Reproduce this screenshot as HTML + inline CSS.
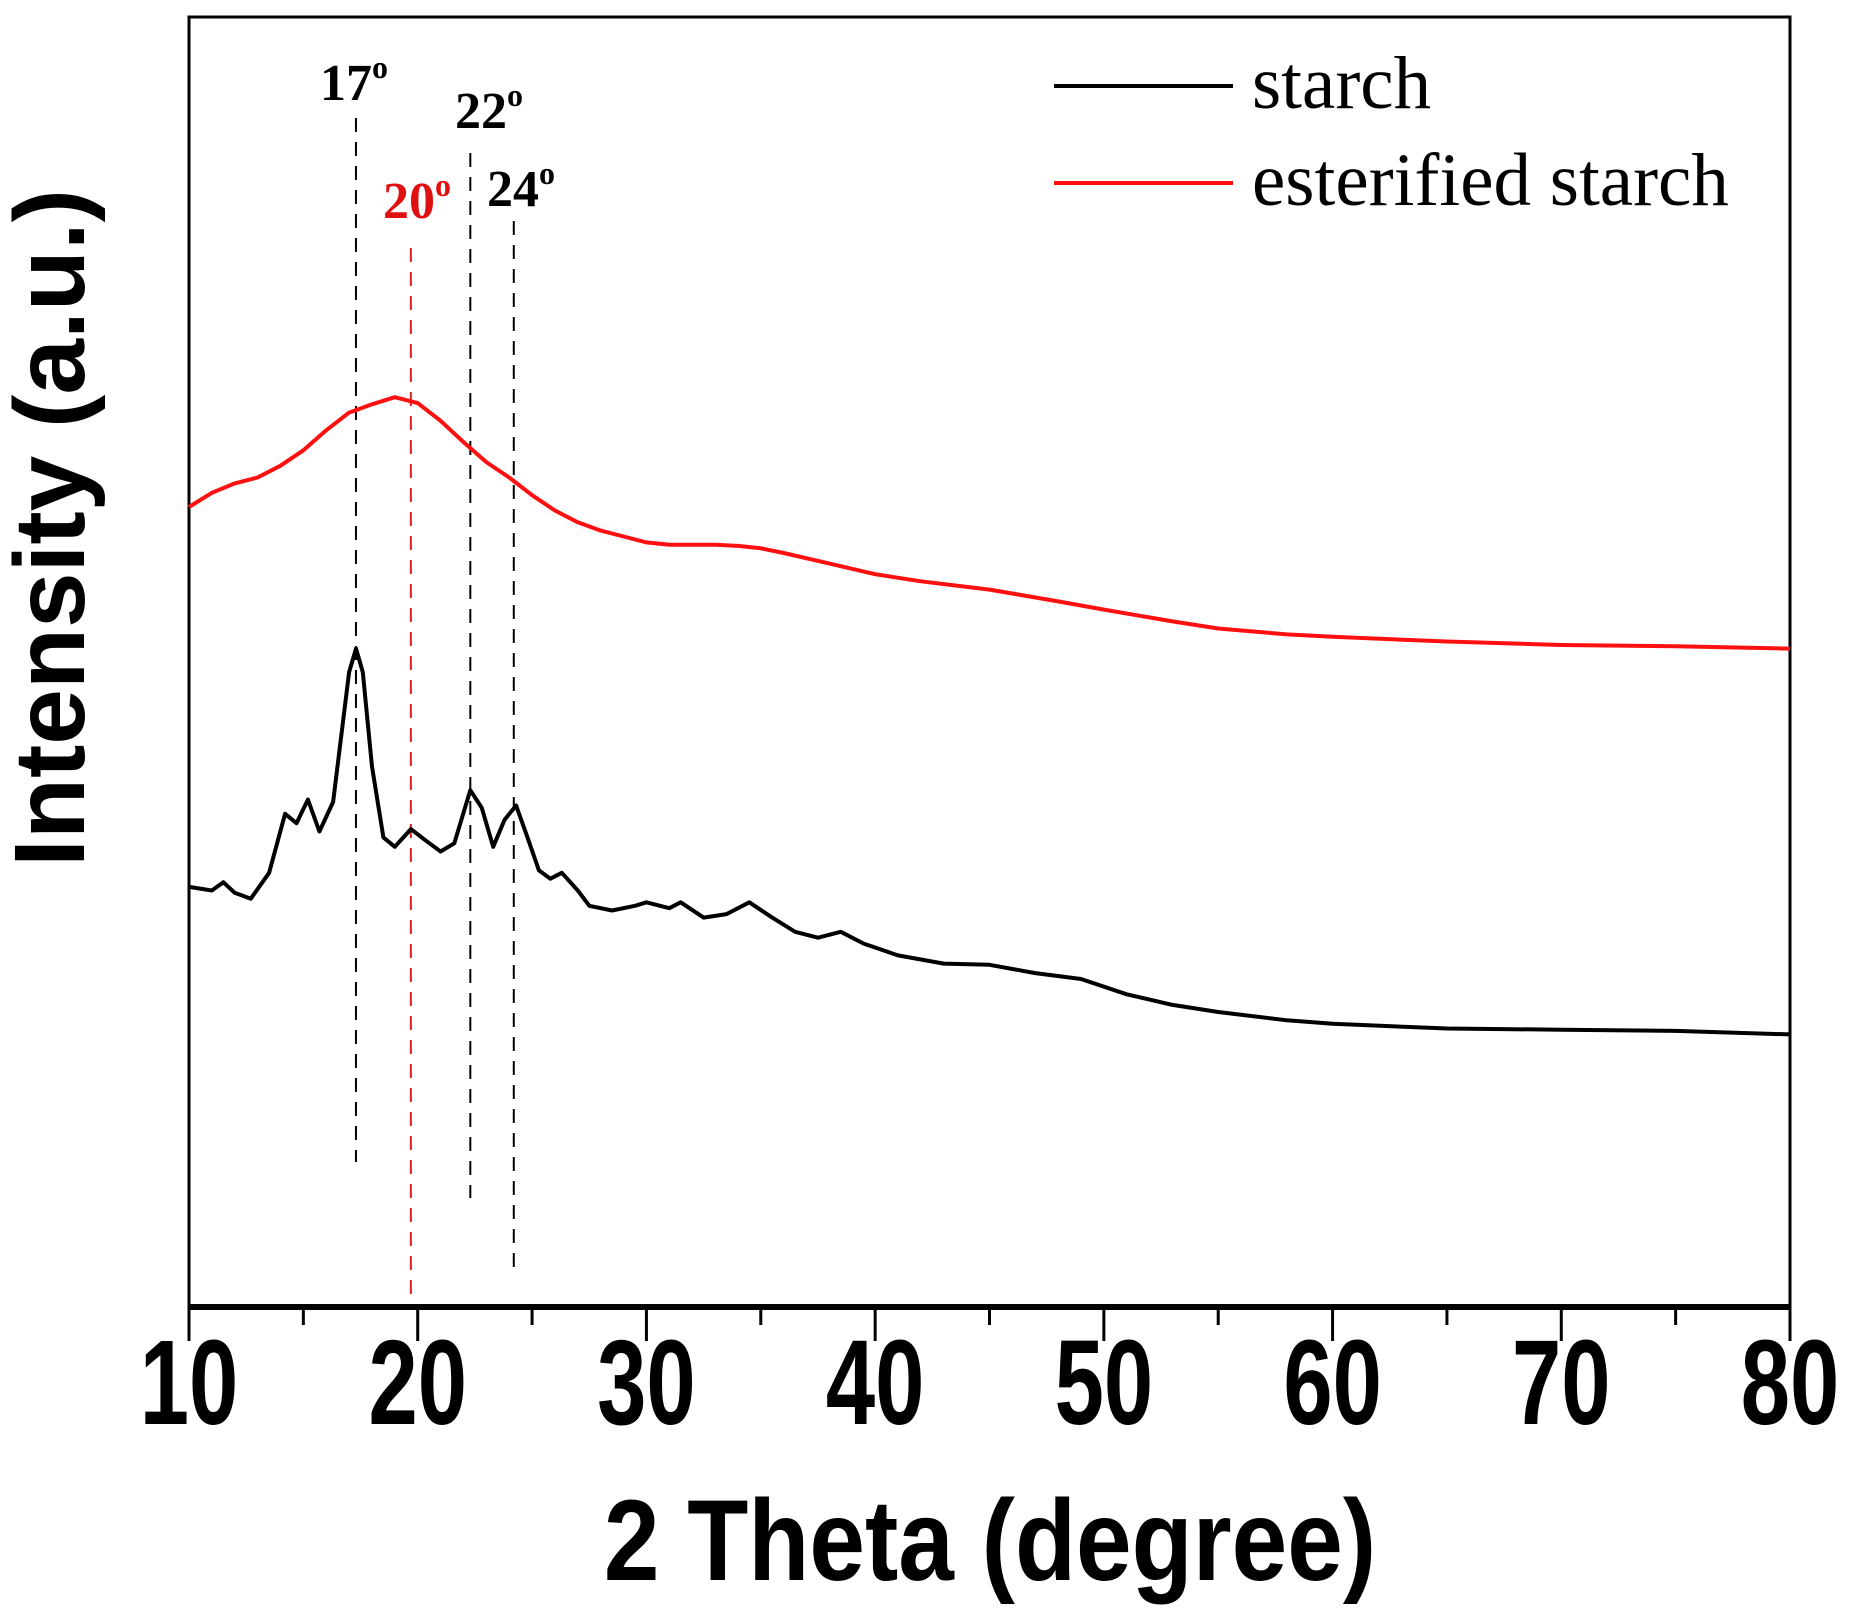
<!DOCTYPE html>
<html><head><meta charset="utf-8"><style>
html,body{margin:0;padding:0;background:#fff;}
svg{display:block;}
</style></head><body>
<svg id="chart" width="1850" height="1615" viewBox="0 0 1850 1615" xmlns="http://www.w3.org/2000/svg">
<g id="plot"></g>
</svg>
<script>
const starchX=[10,11,11.5,12,12.7,13.5,14.2,14.7,15.2,15.7,16.3,17,17.3,17.6,18,18.5,19,19.7,20.3,21,21.6,22.3,22.8,23.3,23.8,24.3,24.8,25.3,25.8,26.3,27,27.5,28.5,29.5,30,31,31.5,32.5,33.5,34.5,35.5,36.5,37.5,38.5,39.5,41,43,45,47,49,51,53,55,58,60,65,70,75,80];
const starchY=[356,353,360,351,346,368,418,410,430,403,428,538,558,538,458,398,390,405,396,386,393,438,423,390,413,425,398,370,363,368,353,340,336,340,343,338,343,330,333,343,330,318,313,318,308,298,291,290,283,278,265,256,250,243,240,236,235,234,231];
const esterX=[10,11,12,13,14,15,16,17,18,19,20,21,22,23,24,25,26,27,28,29,30,31,32,33,34,35,36,38,40,42,45,48,50,53,55,58,60,65,70,75,80];
const esterY=[678,690,698,703,713,726,743,758,765,771,766,751,733,716,703,688,675,665,658,653,648,646,646,646,645,643,639,630,621,615,608,598,591,581,575,570,568,564,561,560,558];
const xTicks=[10,20,30,40,50,60,70,80];
const peakPos=[17.3,22.3,24.2];
const peakLabels=["17","22","24"];
const redPeak=[19.7];
const redLabel=["20"];

const L=189,R=1790,T=17,B=1307;
const X=v=>L+(v-10)/70*(R-L);
const Y=v=>B-v*1.18;
const ns="http://www.w3.org/2000/svg";
const g=document.getElementById('plot');
function mk(tag,attrs){const e=document.createElementNS(ns,tag);for(const k in attrs)e.setAttribute(k,attrs[k]);g.appendChild(e);return e;}

let fr=mk('rect',{x:L,y:T,width:R-L,height:B-T,fill:'none',stroke:'#000','stroke-width':3});


let xa=mk('line',{x1:L,x2:R,y1:B,y2:B,stroke:'#000','stroke-width':6});


for(let v=10;v<=80;v+=5){
  const major=v%10===0;
  let t=mk('line',{x1:X(v),x2:X(v),y1:B,y2:B+(major?34:18),stroke:'#000','stroke-width':3});
  
  
}
xTicks.forEach(v=>{
  let t=mk('text',{x:X(v),y:1424,'text-anchor':'middle','font-family':'Liberation Sans, sans-serif','font-weight':'bold','font-size':108});
  t.setAttribute('transform',`translate(${X(v)} 1424) scale(0.82 1.12) translate(${-X(v)} -1424)`);
  t.textContent=v;
  
  
});
let xt=mk('text',{x:990,y:1580,'text-anchor':'middle','font-family':'Liberation Sans, sans-serif','font-weight':'bold','font-size':100,transform:'translate(990 1580) scale(1.0 1.15) translate(-990 -1580)'});
xt.textContent='2 Theta (degree)';


let yt=mk('text',{x:0,y:0,'text-anchor':'middle','font-family':'Liberation Sans, sans-serif','font-weight':'bold','font-size':100,transform:'translate(84 528) rotate(-90) scale(1.0 1.0)'});
yt.textContent='Intensity (a.u.)';



const lineTops=[118,153,221], lineBots=[1162,1198,1274];
const labPos=[[354,100],[489,128],[521,206]];
peakPos.forEach((p,i)=>{
  let l=mk('line',{x1:X(p),x2:X(p),y1:lineTops[i],y2:lineBots[i],stroke:'#000','stroke-width':2,'stroke-dasharray':'14,10'});
  
  
  let t=mk('text',{x:labPos[i][0],y:labPos[i][1],'text-anchor':'middle','font-family':'Liberation Serif, serif','font-weight':'bold','font-size':52,fill:'#000'});
  t.innerHTML=peakLabels[i]+'<tspan dy="-22" font-size="32">o</tspan>';
  
  
});
redPeak.forEach((p,i)=>{
  let l=mk('line',{x1:X(p),x2:X(p),y1:248,y2:1296,stroke:'#e02020','stroke-width':2,'stroke-dasharray':'14,10'});
  
  
  let t=mk('text',{x:417,y:218,'text-anchor':'middle','font-family':'Liberation Serif, serif','font-weight':'bold','font-size':52,fill:'#e01010'});
  t.innerHTML=redLabel[i]+'<tspan dy="-22" font-size="32">o</tspan>';
  
  
});

function series(xs,ys,color,name){
  const d=xs.map((x,i)=>(i?'L':'M')+X(x).toFixed(1)+','+Y(ys[i]).toFixed(1)).join(' ');
  let p=mk('path',{d:d,fill:'none',stroke:color,'stroke-width':4,'stroke-linejoin':'round'});
  
  
}
series(esterX,esterY,'#ff1010','esterified-starch-line');
series(starchX,starchY,'#000','starch-line');

[[86,'#000','starch','legend-starch'],[183,'#ff1010','esterified starch','legend-esterified-starch']].forEach(a=>{
  let l=mk('line',{x1:1054,x2:1233,y1:a[0],y2:a[0],stroke:a[1],'stroke-width':4});
  
  
  let t=mk('text',{x:1252,y:a[0]+22,'font-family':'Liberation Serif, serif','font-size':75,fill:'#000'});
  t.textContent=a[2];
  
  
});
</script>
</body></html>
